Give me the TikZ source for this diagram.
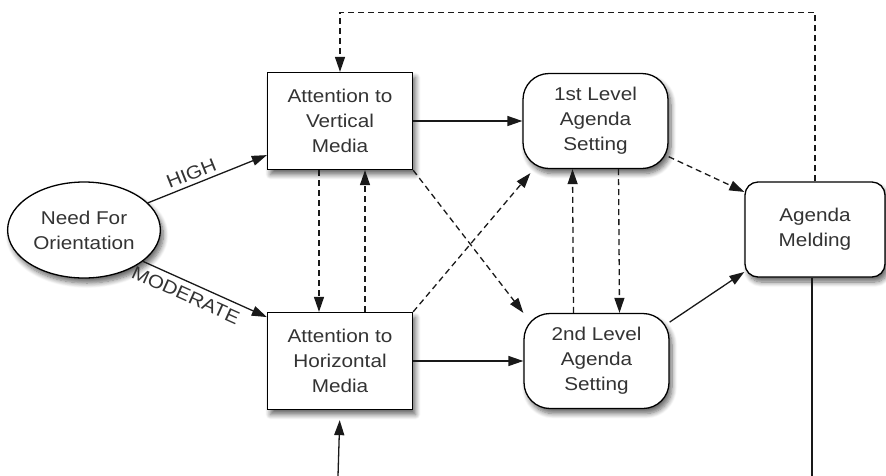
\documentclass[tikz,border=0pt]{standalone}
\usepackage{fontspec}
\setmainfont{Liberation Sans}[FakeStretch=1.12]
\usetikzlibrary{arrows.meta,shapes.geometric,shadows.blur}
\begin{document}
\begin{tikzpicture}[x=1pt, y=-1pt,
  font=\fontsize{18.5}{25}\selectfont,
  shadebox/.style={draw, line width=1.3pt, fill=white, align=center, text=black!80,
    blur shadow={shadow xshift=3pt, shadow yshift=-5pt, shadow blur steps=8, shadow blur radius=5pt, shadow opacity=60}},
  mediabox/.style={shadebox, minimum width=145pt, minimum height=97pt},
  levelbox/.style={shadebox, minimum width=145pt, minimum height=95pt, rounded corners=26pt},
  meldbox/.style={shadebox, minimum width=140pt, minimum height=95pt, rounded corners=13pt},
  link/.style={line width=1.3pt, draw=black!90, -{Triangle[length=15pt,width=10pt]}},
  dlink/.style={link, dash pattern=on 6pt off 4pt}]
\useasboundingbox (0,0) rectangle (886,475);
\node[shadebox, ellipse, minimum width=145pt, minimum height=96pt] (nfo) at (84,230){Need For\\Orientation};
\node[mediabox] (vert) at (340,121){Attention to\\Vertical\\Media};
\node[mediabox] (horiz) at (340,361){Attention to\\Horizontal\\Media};
\node[levelbox] (first) at (595.5,121){1st Level\\Agenda\\Setting};
\node[levelbox] (second) at (596.5,361){2nd Level\\Agenda\\Setting};
\node[meldbox] (meld) at (815,229.5){Agenda\\Melding};
\coordinate (meldout) at (812,476);
\coordinate (horizin) at (338,476);
% need for orientation
\draw[link](nfo.23) -- (vert.205) node[above, sloped, pos=0.4, text=black!80, inner sep=4pt] (high){HIGH};
\draw[link](nfo.-28) -- (horiz.149) node[below, sloped, pos=0.39, text=black!80, inner sep=6pt] (moderate){MODERATE};
% media to agenda setting
\draw[link](vert) -- (first);
\draw[link](horiz) -- (second);
\draw[dlink]([xshift=-21pt]vert.south) -- ([xshift=-21pt]horiz.north);
\draw[dlink]([xshift=25pt]horiz.north) -- ([xshift=25pt]vert.south);
\draw[dlink](vert.south east) -- (second.north west);
\draw[dlink](horiz.north east) -- ([xshift=8pt,yshift=-4pt]first.south west);
\draw[dlink]([xshift=-23pt]second.north) -- ([xshift=-23pt]first.south);
\draw[dlink]([xshift=23pt]first.south) -- ([xshift=23pt]second.north);
% melding
\draw[dlink](first.-26) -- (meld.152);
\draw[link](second.28) -- (meld.211);
\draw[dlink](meld.north) -- ++(0,-169) -| (vert.north);
\draw[line width=1.3pt, draw=black!90]([xshift=-3pt]meld.south) -- (meldout);
\draw[link, shorten >=10pt](horizin) -- (horiz.south);
\end{tikzpicture}
\end{document}
